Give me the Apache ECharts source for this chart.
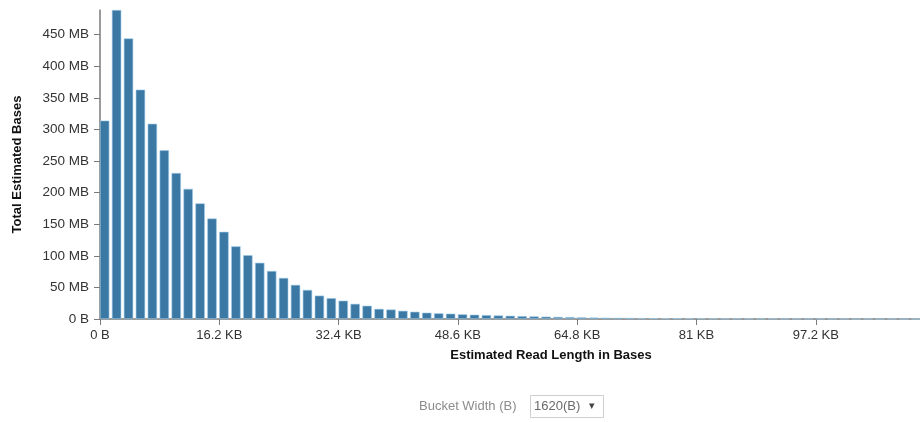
<!DOCTYPE html>
<html>
<head>
<meta charset="utf-8">
<title>Read Length Histogram</title>
<script src="https://cdn.jsdelivr.net/npm/echarts@6/dist/echarts.min.js"></script>
<style>
  html, body { margin: 0; padding: 0; background: #fff; }
  #chart { width: 920px; height: 422px; }
</style>
</head>
<body>
<div id="chart"></div>
<script>
// Histogram of total estimated bases per read-length bucket.
const BUCKET_WIDTH = 1620;            // bases per bucket
const X_MAX = 111350;                 // end of the read-length axis (bases)
const X_TICK_STEP = 16200;            // bases between x-axis labels
const Y_TICK_STEP = 50;               // MB between y-axis labels

// Total estimated bases (MB) in each bucket, starting at 0 B.
const bucketTotalsMB = [
  314, 489, 444, 363, 309, 267, 231, 206, 183, 159,
  138, 115, 101, 89, 76, 65, 54, 46, 37, 33,
  29, 24, 21, 16, 15, 13, 11.5, 10, 9, 8.4,
  7.4, 6.8, 6.2, 5.6, 5.1, 4.6, 4.1, 3.7, 3.3, 3.0,
  2.6, 2.3, 2.1, 1.9, 1.7, 1.5, 1.3, 1.2, 1.1, 1.0,
  0.9, 0.8, 0.7, 0.7, 0.6, 0.5, 0.5, 0.4, 0.4, 0.4,
  0.3, 0.3, 0.3, 0.2, 0.2, 0.2, 0.2, 0.1, 0.1
];

const bucketWidthOptionLabel = '1620(B)';

// Bars sit slightly left of each bucket's middle, leaving the gap on the right.
const barData = bucketTotalsMB.map((v, i) => [i * BUCKET_WIDTH + BUCKET_WIDTH * 0.39, v]);
const yMax = Math.max(...bucketTotalsMB);

const FONT = 'Liberation Sans, Arial, Helvetica, sans-serif';
const AXIS_COLOR = '#7a7a7a';

const chart = echarts.init(document.getElementById('chart'), null, { renderer: 'canvas' });

chart.setOption({
  backgroundColor: '#ffffff',
  animation: false,
  textStyle: { fontFamily: FONT },
  grid: {
    left: 100, right: 0, top: 10, bottom: 103,
    containLabel: false,
    outerBoundsMode: 'none'
  },
  xAxis: {
    type: 'value',
    min: 0,
    max: X_MAX,
    interval: X_TICK_STEP,
    name: 'Estimated Read Length in Bases',
    nameLocation: 'middle',
    nameGap: 30,
    nameTextStyle: {
      fontFamily: FONT, fontSize: 13, fontWeight: 'bold', color: '#111',
      padding: [0, 0, 0, 82]
    },
    axisLine: { show: true, lineStyle: { color: AXIS_COLOR, width: 1.5 } },
    axisTick: { show: true, length: 6, lineStyle: { color: AXIS_COLOR } },
    splitLine: { show: false },
    axisLabel: {
      color: '#333', fontSize: 13, fontFamily: FONT, margin: 10,
      showMaxLabel: false,
      formatter: v => (v === 0 ? '0 B' : (+(v / 1000).toFixed(1)) + ' KB')
    }
  },
  yAxis: {
    type: 'value',
    min: 0,
    max: yMax,
    interval: Y_TICK_STEP,
    name: 'Total Estimated Bases',
    nameLocation: 'middle',
    nameGap: 76,
    nameRotate: 90,
    nameTextStyle: { fontFamily: FONT, fontSize: 13, fontWeight: 'bold', color: '#111' },
    axisLine: { show: true, lineStyle: { color: AXIS_COLOR, width: 1.5 } },
    axisTick: { show: true, length: 6, lineStyle: { color: AXIS_COLOR } },
    splitLine: { show: false },
    axisLabel: {
      color: '#333', fontSize: 13.5, fontFamily: FONT, margin: 11,
      showMaxLabel: false,
      formatter: v => (v === 0 ? '0 B' : v + ' MB')
    }
  },
  series: [{
    type: 'bar',
    data: barData,
    barWidth: 9.4,
    itemStyle: { color: '#3b78a4', borderColor: '#9fcbe8', borderWidth: 0.6 },
    emphasis: { disabled: true }
  }],
  graphic: [
    {
      type: 'text', left: 419, top: 400,
      style: { text: 'Bucket Width (B)', fill: '#8c8c8c', font: '13px ' + FONT }
    },
    {
      type: 'rect', left: 530, top: 395,
      shape: { width: 73, height: 22 },
      style: { fill: '#fff', stroke: '#cfcfcf', lineWidth: 1 }
    },
    {
      type: 'text', left: 534, top: 400,
      style: { text: bucketWidthOptionLabel, fill: '#6a6a6a', font: '13px ' + FONT }
    },
    {
      type: 'text', left: 589, top: 400,
      style: { text: '\u25BE', fill: '#444', font: '11px ' + FONT }
    }
  ]
});
</script>
</body>
</html>
